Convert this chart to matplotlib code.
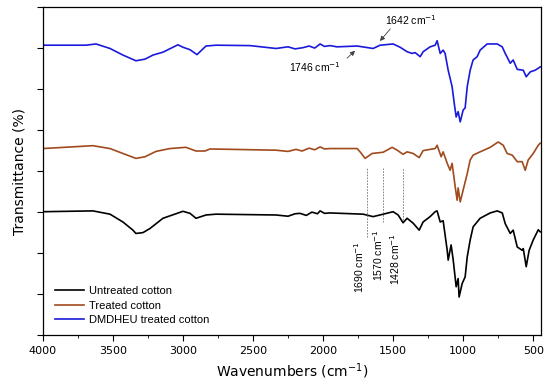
import numpy as np
import matplotlib
matplotlib.use('Agg')
import matplotlib.pyplot as plt
from matplotlib.ticker import MultipleLocator, NullFormatter

# wavenumber (cm-1) / transmittance (offset, a.u.)
wn_blue = [4000, 3693, 3621, 3521, 3429, 3336, 3271, 3214, 3143, 3036, 3000, 2950, 2900, 2836,
           2764, 2521, 2336, 2250, 2200, 2143, 2100, 2060, 2021, 1990, 1950, 1900, 1757, 1643,
           1593, 1500, 1450, 1400, 1364, 1343,
           1307, 1286, 1236, 1200, 1186, 1164, 1143, 1129, 1107, 1079, 1064, 1050, 1036, 1021,
           1000, 986, 971, 950, 929, 900, 879, 829, 757, 721, 700, 664, 643, 614, 571, 550,
           521, 486, 450]
t_blue = [70.7, 70.7, 71.0, 69.9, 68.3, 66.9, 67.3, 68.3, 69.0, 70.8, 70.2, 69.6, 68.4, 70.5,
          70.7, 70.6, 69.9, 70.3, 69.8, 70.1, 70.5, 70.0, 71.0, 70.4, 70.6, 70.3, 70.5, 69.9,
          70.7, 71.0, 70.2, 69.1, 68.7, 68.9,
          67.9, 69.1, 70.3, 70.7, 71.8, 68.7, 69.5, 68.7, 64.6, 60.6, 56.6, 53.2, 54.5, 52.0,
          54.9, 55.4, 60.6, 64.6, 67.1, 67.9, 69.5, 71.0, 71.0, 70.3, 68.7, 66.3, 67.1, 64.8,
          64.6, 63.0, 64.2, 64.6, 65.4]

wn_red = [4000, 3643, 3521, 3429, 3336, 3271, 3193, 3093, 2979, 2907, 2843, 2807, 2336, 2250,
          2193, 2150, 2100, 2060, 2021, 1990, 1950, 1757, 1736, 1700, 1650, 1571, 1507, 1471,
          1429, 1400, 1357, 1314, 1286,
          1236, 1200, 1186, 1157, 1143, 1114, 1093, 1079, 1057, 1043, 1036, 1021, 1000, 971,
          950, 929, 879, 807, 750, 714, 686, 650, 614, 579, 557, 536, 500, 464, 450]
t_red = [45.5, 46.2, 45.5, 44.3, 43.1, 43.5, 44.8, 45.5, 45.8, 44.9, 44.9, 45.4, 45.1, 44.8,
         45.3, 44.9, 45.6, 45.2, 45.9, 45.4, 45.5, 45.5, 44.7, 43.1, 44.3, 44.6, 45.8, 45.1,
         44.1, 44.7, 44.3, 43.3, 45.0,
         45.3, 45.5, 46.3, 43.5, 44.7, 41.9, 40.2, 41.9, 36.2, 32.9, 35.9, 32.5, 35.4, 39.4,
         42.7, 43.9, 44.7, 45.8, 47.1, 46.3, 44.3, 43.9, 42.3, 42.3, 40.2, 42.7, 44.3, 46.3, 46.8]

wn_black = [4000, 3643, 3521, 3429, 3357, 3336, 3286, 3236, 3143, 3000, 2950, 2907, 2836, 2764,
            2336, 2250, 2200, 2164, 2120, 2080, 2040, 2021, 1990, 1950, 1714, 1643, 1571, 1500,
            1464, 1429, 1400, 1357, 1314, 1286,
            1236, 1200, 1186, 1164, 1143, 1114, 1107, 1086, 1071, 1050, 1036, 1029, 1007, 986,
            971, 950, 929, 879, 807, 757, 721, 700, 664, 643, 614, 579, 571, 550, 529, 500,
            464, 450]
t_black = [30.1, 30.3, 29.5, 27.6, 25.6, 24.8, 25.0, 26.0, 28.5, 30.2, 29.7, 28.5, 29.3, 29.5,
           29.3, 29.0, 29.6, 29.7, 29.2, 30.0, 29.6, 30.3, 29.7, 29.8, 29.5, 28.9, 29.5, 30.1,
           29.3, 27.4, 28.5, 27.3, 25.6, 27.6,
           28.9, 30.1, 30.3, 27.6, 27.9, 20.7, 18.3, 22.0, 18.3, 11.8, 13.8, 9.3, 12.6, 14.2,
           19.1, 23.2, 26.4, 28.5, 29.8, 30.3, 29.8, 27.2, 24.8, 25.6, 21.5, 20.7, 21.1, 16.7,
           20.7, 23.2, 25.7, 25.2]

# marked bands: position, top and bottom of the dashed guide
band_pos = [1690, 1570, 1428]
band_top = [40.7, 40.7, 40.7]
band_bot = [23.9, 27.6, 28.0]

fig = plt.figure(figsize=(5.5, 3.92), dpi=100)
ax = fig.add_axes([0.078, 0.145, 0.906, 0.837])
plt.rcParams['font.family'] = ['Liberation Sans', 'DejaVu Sans']

ax.plot(wn_black, t_black, color='black', lw=1.2, label='Untreated cotton')
ax.plot(wn_red, t_red, color='#a04a1e', lw=1.2, label='Treated cotton')
ax.plot(wn_blue, t_blue, color='#1a1adc', lw=1.2, label='DMDHEU treated cotton')

for p, top, bot in zip(band_pos, band_top, band_bot):
    ax.plot([p, p], [bot, top], color='0.45', lw=0.6, ls=(0, (2, 1.5)))

ax.text(1745, 16.5, '1690 cm$^{-1}$', rotation=90, ha='center', va='center', fontsize=7.5, family='Liberation Sans')
ax.text(1610, 19.5, '1570 cm$^{-1}$', rotation=90, ha='center', va='center', fontsize=7.5, family='Liberation Sans')
ax.text(1483, 18.5, '1428 cm$^{-1}$', rotation=90, ha='center', va='center', fontsize=7.5, family='Liberation Sans')

arrow = dict(arrowstyle='-|>', color='0.25', lw=0.6, mutation_scale=7)
ax.annotate('', xy=(1607, 71.2), xytext=(1507, 75.2), arrowprops=arrow)
ax.annotate('', xy=(1757, 69.8), xytext=(1843, 67.1), arrowprops=arrow)
ax.text(1371, 76.8, '1642 cm$^{-1}$', ha='center', va='center', fontsize=7.5, family='Liberation Sans')
ax.text(2057, 65.4, '1746 cm$^{-1}$', ha='center', va='center', fontsize=7.5, family='Liberation Sans')

ax.set_xlim(4000, 443)
ax.set_ylim(0, 80)
ax.xaxis.set_major_locator(MultipleLocator(500))
ax.xaxis.set_minor_locator(MultipleLocator(250))
ax.yaxis.set_major_locator(MultipleLocator(10))
ax.yaxis.set_major_formatter(NullFormatter())
ax.tick_params(direction='out', labelsize=8, length=4, width=0.8)
ax.tick_params(which='minor', direction='out', length=2, width=0.6)
for s in ax.spines.values():
    s.set_linewidth(0.9)

ax.set_xlabel('Wavenumbers (cm$^{-1}$)', fontsize=10)
ax.set_ylabel('Transmittance (%)', fontsize=10)
ax.legend(loc='lower left', frameon=False, fontsize=8, handlelength=2.6,
          labelspacing=0.4, handletextpad=0.4, borderaxespad=0.5, bbox_to_anchor=(0.005, 0.0))

fig.savefig('out.png', dpi=100)
